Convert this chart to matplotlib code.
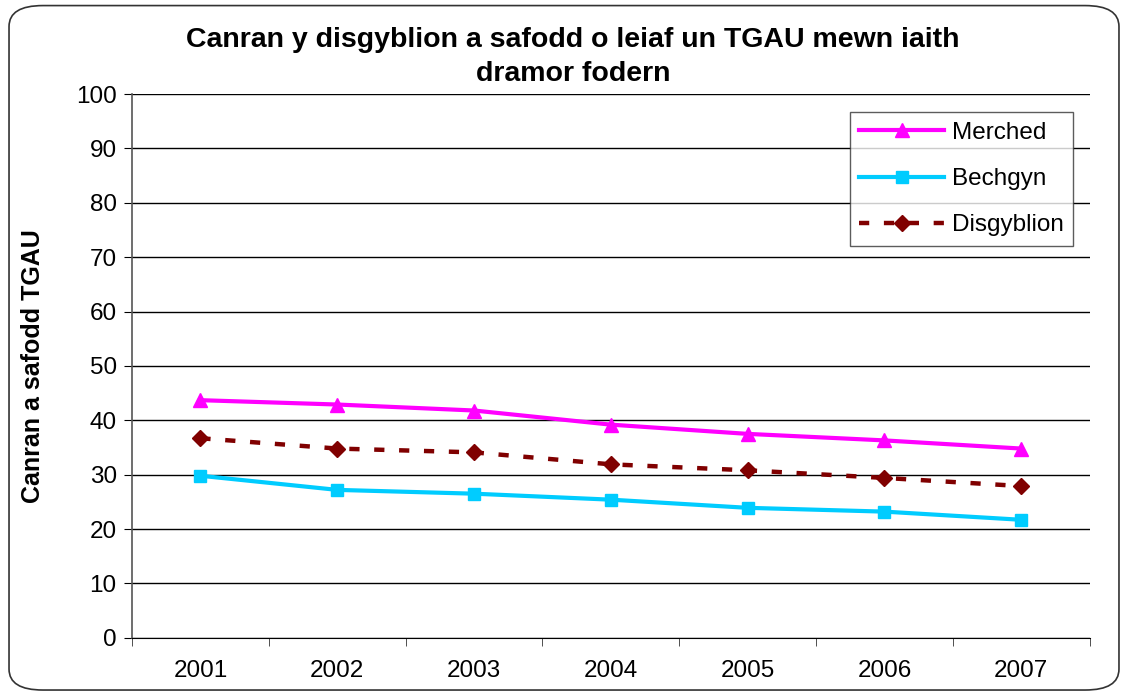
import matplotlib
matplotlib.use("Agg")
import matplotlib.pyplot as plt
from matplotlib.patches import FancyBboxPatch

plt.rcParams['font.family'] = ['Liberation Sans', 'DejaVu Sans']

years = ['2001', '2002', '2003', '2004', '2005', '2006', '2007']
merched = [43.7, 42.9, 41.8, 39.2, 37.5, 36.3, 34.8]
bechgyn = [29.8, 27.2, 26.5, 25.4, 23.9, 23.2, 21.7]
disgyblion = [36.7, 34.8, 34.1, 31.9, 30.8, 29.4, 27.9]

fig = plt.figure(figsize=(11.28, 6.97), dpi=100)
ax = fig.add_axes([0.117, 0.085, 0.849, 0.78])

x = range(len(years))
ax.plot(x, merched, color='#ff00ff', lw=3, marker='^', ms=10, label='Merched', zorder=3)
ax.plot(x, bechgyn, color='#00ccff', lw=3, marker='s', ms=8.5, label='Bechgyn', zorder=3)
ax.plot(x, disgyblion, color='#800000', lw=3.2, ls=(0, (2.3, 3.3)), marker='D', ms=8.5,
        label='Disgyblion', zorder=3)

ax.set_xlim(-0.5, len(years) - 0.5)
ax.set_ylim(0, 100)
ax.set_yticks(range(0, 101, 10))
ax.set_xticks(x)
ax.set_xticklabels(years)
ax.set_xticks([i - 0.5 for i in range(len(years) + 1)], minor=True)
ax.tick_params(axis='x', which='major', length=0, pad=16, labelsize=17.5)
ax.tick_params(axis='x', which='minor', length=6, direction='out', color='#333333')
ax.tick_params(axis='y', length=6, direction='out', labelsize=17.5, pad=5)
ax.yaxis.grid(True, color='black', lw=1)
ax.set_axisbelow(True)
for s in ['top', 'right']:
    ax.spines[s].set_visible(False)
ax.spines['left'].set_color('#555555')
ax.spines['bottom'].set_color('black')
ax.spines['left'].set_linewidth(1.2)

ax.set_ylabel('Canran a safodd TGAU', fontsize=18, fontweight='bold', labelpad=22)
fig.text(0.508, 0.918, 'Canran y disgyblion a safodd o leiaf un TGAU mewn iaith\ndramor fodern',
         ha='center', va='center', fontsize=20.5, fontweight='bold', linespacing=1.4)

leg = ax.legend(loc='upper right', bbox_to_anchor=(0.983, 0.967), fontsize=17.5,
                frameon=True, fancybox=False, edgecolor='#333333', handlelength=3.5,
                borderpad=0.4, labelspacing=1.0, handletextpad=0.3, borderaxespad=0)
leg.get_frame().set_linewidth(1)

border = FancyBboxPatch((0.008, 0.01), 0.984, 0.982, boxstyle='round,pad=0,rounding_size=0.03',
                        transform=fig.transFigure, fill=False, edgecolor='#333333', lw=1.2)
fig.patches.append(border)

fig.savefig('out.png', dpi=100)
